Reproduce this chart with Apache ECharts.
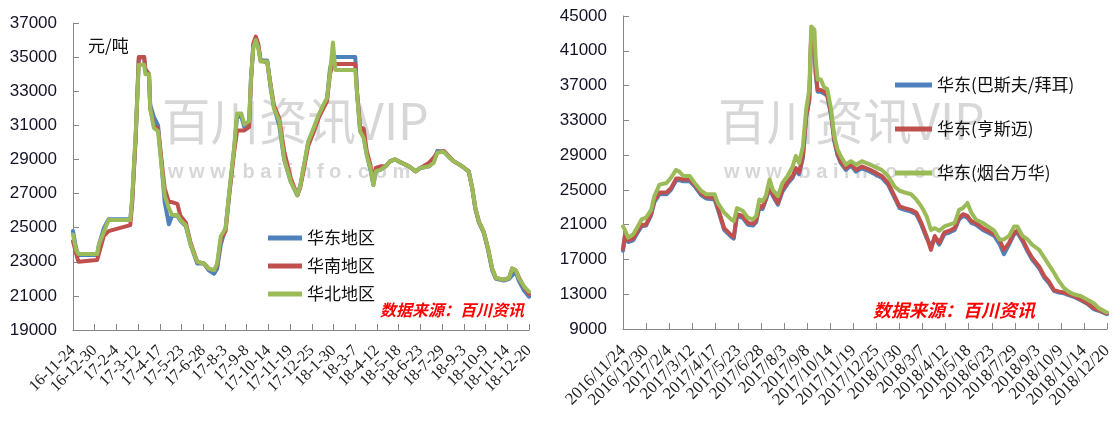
<!DOCTYPE html>
<html>
<head>
<meta charset="utf-8">
<script src="https://cdn.jsdelivr.net/npm/echarts/dist/echarts.min.js"></script>
<style>
  html, body { margin: 0; padding: 0; background: #fff; }
  #chart { width: 1120px; height: 427px; }
</style>
</head>
<body>
<div id="chart"></div>
<script>
// ---- data -------------------------------------------------------------
// x positions are days counted from startDate
const startDate = '2016-11-24';
const tickStepDays = 36;
const totalDays = 756;

// left panel: regional prices, 元/吨
const regionNames = ['华东地区', '华南地区', '华北地区'];
const regionDays = [
  0, 5, 9, 40, 43, 51, 59, 95, 98, 104,
  109, 112, 118, 120, 126, 128, 134, 141, 146, 152,
  159, 164, 173, 178, 187, 195, 206, 217, 225, 234,
  239, 245, 253, 259, 267, 272, 279, 284, 292, 295,
  299, 303, 307, 311, 322, 328, 333, 342, 350, 361,
  372, 377, 382, 390, 399, 407, 415, 421, 426, 431,
  433, 435, 468, 471, 476, 482, 487, 493, 498, 502,
  510, 518, 526, 534, 545, 557, 568, 576, 590, 598,
  604, 615, 623, 631, 645, 656, 662, 667, 673, 681,
  688, 695, 701, 714, 723, 728, 734, 739, 748, 756
];
const eastRegion = [
  24800, 23800, 23400, 23400, 24000, 24950, 25500, 25500, 26500, 30300,
  34800, 35000, 35000, 34200, 34000, 32200, 31500, 31000, 29000, 26500,
  25200, 25700, 25700, 25400, 25100, 24000, 22900, 22900, 22500, 22300,
  22600, 24000, 25000, 27000, 29600, 31500, 31500, 30900, 31100, 33700,
  35700, 36100, 35700, 34800, 34800, 33100, 32100, 31000, 29000, 27700,
  26900, 27500, 28400, 30000, 30800, 31500, 32100, 32500, 34300, 35000,
  35000, 35000, 35000, 32900, 30700, 30300, 29300, 28400, 27500, 28300,
  28400, 28600, 28900, 29000, 28800, 28600, 28300, 28500, 28600, 28900,
  29500, 29450, 29150, 28900, 28600, 28300, 27300, 26100, 25300, 24700,
  23700, 22500, 22000, 21900, 22000, 22200, 22400, 21900, 21300, 20950
];
const southRegion = [
  24200, 23500, 23000, 23100, 23200, 24500, 24800, 25150, 26400, 30400,
  35000, 35000, 35000, 34300, 34000, 32000, 31000, 30800, 29200, 27300,
  26500, 26500, 26400, 25700, 25300, 24100, 23000, 22900, 22600, 22500,
  22800, 24300, 24800, 26900, 29400, 30700, 30700, 30700, 30900, 33500,
  35800, 36200, 35800, 34800, 34700, 33300, 32200, 31400, 29500, 27900,
  26900, 27400, 28300, 29800, 30600, 31400, 32000, 32400, 34000, 34600,
  34600, 34600, 34600, 32900, 30900, 30800, 29500, 28700, 27700, 28500,
  28600, 28600, 28900, 29000, 28800, 28600, 28300, 28500, 28800, 29100,
  29400, 29500, 29200, 28900, 28600, 28300, 27300, 26150, 25350, 24750,
  23800, 22600, 22050, 21950, 22050, 22600, 22500, 22100, 21500, 21100
];
const northRegion = [
  24600, 23700, 23450, 23450, 24000, 24750, 25450, 25450, 26750, 30550,
  34550, 34650, 34550, 34000, 34000, 32000, 30850, 30650, 28900, 26900,
  26150, 25750, 25750, 25450, 25150, 24000, 23000, 22900, 22600, 22500,
  22900, 24500, 24950, 27100, 29650, 31700, 31700, 31050, 31250, 33750,
  35550, 36000, 35550, 34750, 34750, 33200, 32000, 31250, 29050, 27700,
  26900, 27500, 28500, 30050, 30850, 31600, 32200, 32600, 34050, 35850,
  35950, 34250, 34250, 32800, 30650, 30250, 29250, 28500, 27500, 28300,
  28400, 28600, 28900, 29000, 28800, 28600, 28300, 28500, 28600, 28800,
  29400, 29450, 29150, 28900, 28600, 28300, 27300, 26150, 25350, 24750,
  23800, 22600, 22050, 21950, 22050, 22600, 22500, 22050, 21550, 21250
];

// right panel: East China prices by producer, 元/吨
const brandNames = ['华东(巴斯夫/拜耳)', '华东(亨斯迈)', '华东(烟台万华)'];
const brandDays = [
  0, 3, 8, 16, 23, 29, 36, 44, 49, 57,
  68, 75, 83, 88, 94, 104, 112, 122, 130, 143,
  148, 158, 169, 173, 178, 187, 195, 203, 208, 213,
  218, 223, 229, 234, 242, 249, 257, 265, 270, 275,
  281, 286, 291, 294, 299, 301, 304, 309, 314, 319,
  325, 330, 335, 340, 348, 356, 364, 373, 386, 404,
  414, 424, 432, 440, 450, 458, 466, 474, 481, 487,
  494, 502, 510, 518, 525, 531, 538, 544, 551, 562,
  570, 580, 588, 595, 603, 611, 616, 624, 632, 639,
  650, 658, 665, 673, 681, 689, 696, 704, 715, 725,
  735, 743, 756
];
const basfBayer = [
  18000, 19600, 19000, 19200, 20100, 20800, 20900, 22100, 23600, 24500,
  24500, 25000, 26100, 26100, 26000, 26000, 25400, 24400, 24000, 23900,
  22800, 20400, 19600, 19400, 22000, 21800, 21000, 20900, 21300, 23000,
  22800, 23800, 25200, 24300, 23300, 24800, 25700, 26400, 27300, 26800,
  28700, 33300, 35300, 42800, 41800, 38300, 36300, 36300, 36100, 35800,
  33600, 30600, 29000, 28100, 27300, 27800, 27100, 27500, 27100, 26400,
  25600, 24100, 22900, 22700, 22500, 22200, 21000, 19500, 18500, 19500,
  18700, 19900, 20100, 20400, 21600, 22000, 21800, 21200, 21000, 20400,
  20100, 19700, 18800, 17600, 18700, 19900, 20100, 19100, 17900, 17000,
  16000, 14900, 14300, 13400, 13200, 13100, 12900, 12700, 12300, 11900,
  11300, 11100, 10700
];
const huntsman = [
  18200, 19800, 19200, 19400, 20300, 21000, 21000, 22300, 23800, 24700,
  24700, 25200, 26300, 26300, 26200, 26200, 25600, 24600, 24200, 24100,
  23000, 20600, 19800, 19600, 22200, 22000, 21200, 21100, 21500, 23200,
  23000, 24000, 25400, 24500, 23500, 25000, 25900, 26600, 27500, 27000,
  28900, 33500, 35500, 43000, 42000, 38500, 36500, 36500, 36300, 36000,
  33800, 30800, 29200, 28300, 27500, 28000, 27300, 27700, 27300, 26600,
  25800, 24300, 23100, 22900, 22700, 22400, 21200, 19700, 18100, 19700,
  18900, 20100, 20300, 20600, 21800, 22200, 22000, 21400, 21200, 20600,
  20300, 19900, 19300, 18100, 18900, 20100, 20300, 19300, 18100, 17200,
  16200, 15100, 14500, 13500, 13300, 13200, 13000, 12800, 12400, 12000,
  11400, 11200, 10800
];
const wanhua = [
  20800, 20400, 19500, 19900, 20800, 21600, 21800, 22700, 24300, 25600,
  25800, 26400, 27300, 27100, 26600, 26600, 25800, 24900, 24500, 24500,
  23500, 22400, 21600, 21400, 22900, 22600, 21800, 21600, 22000, 23900,
  23700, 24300, 26200, 25000, 24300, 25800, 26600, 27700, 28900, 28100,
  30000, 34200, 36600, 43800, 43400, 40000, 37700, 37700, 36800, 36600,
  34300, 31200, 29700, 28900, 27900, 28300, 27900, 28300, 27900, 27300,
  26600, 25400, 24900, 24700, 24500, 23900, 23100, 22000, 20400, 20600,
  20300, 20800, 21000, 21200, 22700, 22900, 23500, 22400, 21600, 21200,
  20800, 20300, 19300, 19300, 19700, 20800, 20800, 19700, 19300, 18700,
  18100, 17200, 16400, 15500, 14500, 13700, 13300, 13000, 12800, 12400,
  12000, 11400, 10900
];

// ---- helpers ----------------------------------------------------------
const DAY_MS = 86400000;
const [sy, sm, sd] = startDate.split('-').map(Number);
const t0 = Date.UTC(sy, sm - 1, sd);
function dateParts(n) {
  const d = new Date(t0 + Math.round(n) * DAY_MS);
  return [d.getUTCFullYear(), d.getUTCMonth() + 1, d.getUTCDate()];
}
const shortDate = v => { const [y, m, d] = dateParts(v); return (y % 100) + '-' + m + '-' + d; };
const longDate = v => { const [y, m, d] = dateParts(v); return y + '/' + m + '/' + d; };
const pairs = (days, vals) => days.map((d, i) => [d, vals[i]]);

const COLORS = ['#4f81bd', '#c0504d', '#9bbb59'];
const AXIS_GREY = '#868686';
const NUM_FONT = 'Liberation Sans';
const DATE_FONT = 'Liberation Serif';
const CJK_FONT = 'Noto Sans CJK SC';

// Inner date ticks/labels; the two end dates come from a companion axis
// (see endsAxisFor) so that no inner label is dropped next to them.
function xAxisFor(gridIndex, fmt, size, margin) {
  return {
    type: 'value', gridIndex, position: 'bottom', offset: 0,
    min: 0, max: totalDays, interval: tickStepDays,
    axisLine: { show: true, lineStyle: { color: AXIS_GREY, width: 1 } },
    axisTick: { show: true, inside: true, length: 6, lineStyle: { color: AXIS_GREY } },
    splitLine: { show: false },
    axisLabel: {
      formatter: fmt, rotate: 45, margin, showMinLabel: false, showMaxLabel: false,
      fontFamily: DATE_FONT, fontSize: size, color: '#222'
    }
  };
}
function endsAxisFor(gridIndex, fmt, size, margin) {
  return {
    type: 'value', gridIndex, position: 'bottom', offset: 0,
    min: 0, max: totalDays, interval: totalDays,
    axisLine: { show: false },
    axisTick: { show: true, inside: true, length: 6, lineStyle: { color: AXIS_GREY } },
    splitLine: { show: false },
    axisLabel: {
      formatter: fmt, rotate: 45, margin, showMinLabel: true, showMaxLabel: true,
      fontFamily: DATE_FONT, fontSize: size, color: '#222'
    }
  };
}
function yAxisFor(gridIndex, min, max, step) {
  return {
    type: 'value', gridIndex, min, max, interval: step,
    axisLine: { show: true, lineStyle: { color: AXIS_GREY, width: 1 } },
    axisTick: { show: true, inside: true, length: 6, lineStyle: { color: AXIS_GREY } },
    splitLine: { show: false },
    axisLabel: {
      formatter: v => String(v), margin: 16,
      fontFamily: NUM_FONT, fontSize: 17, color: '#141428'
    }
  };
}
function lineSeries(name, idx, days, vals, color) {
  return {
    name, type: 'line', xAxisIndex: idx, yAxisIndex: idx,
    data: pairs(days, vals), symbol: 'none', smooth: false, animation: false,
    lineStyle: { color, width: 4, join: 'round', cap: 'round' },
    itemStyle: { color }
  };
}
function legendFor(names, left, top, gap, width) {
  return {
    data: names, orient: 'vertical', left, top, itemGap: gap,
    icon: 'rect', itemWidth: width, itemHeight: 5,
    textStyle: { fontFamily: CJK_FONT, fontSize: 17, color: '#111', lineHeight: 20 },
    selectedMode: false
  };
}
function watermark(x, y) {
  return [
    { type: 'text', left: x, top: y, z: 0, silent: true, scaleX: 0.97,
      style: { text: '百川资讯VIP', fontFamily: CJK_FONT, fontSize: 50, fill: 'rgba(160,160,160,0.42)' } },
    { type: 'text', left: x + 6, top: y + 66, z: 0, silent: true,
      style: { text: 'w w w . b a i i n f o . c o m', fontFamily: NUM_FONT, fontWeight: 'bold', fontSize: 20, fill: 'rgba(160,160,160,0.42)' } }
  ];
}
function sourceNote(x, y, size) {
  return { type: 'text', left: x, top: y, z: 100, silent: true,
    style: { text: '数据来源：百川资讯', fontFamily: CJK_FONT, fontWeight: 'bold', fontStyle: 'italic', fontSize: size, fill: '#ff0000' } };
}

// ---- chart ------------------------------------------------------------
const chart = echarts.init(document.getElementById('chart'), null, { renderer: 'canvas' });
chart.setOption({
  animation: false,
  backgroundColor: '#ffffff',
  grid: [
    { left: 73, top: 23, width: 456, height: 307 },
    { left: 623, top: 16, width: 484, height: 313 }
  ],
  xAxis: [
    xAxisFor(0, shortDate, 16, 18),
    xAxisFor(1, longDate, 17, 19),
    endsAxisFor(0, shortDate, 16, 18),
    endsAxisFor(1, longDate, 17, 19)
  ],
  yAxis: [yAxisFor(0, 19000, 37000, 2000), yAxisFor(1, 9000, 45000, 4000)],
  legend: [
    legendFor(regionNames, 263, 223, 8, 34),
    legendFor(brandNames, 890, 70, 24, 37)
  ],
  series: [
    lineSeries(regionNames[0], 0, regionDays, eastRegion, COLORS[0]),
    lineSeries(regionNames[1], 0, regionDays, southRegion, COLORS[1]),
    lineSeries(regionNames[2], 0, regionDays, northRegion, COLORS[2]),
    lineSeries(brandNames[0], 1, brandDays, basfBayer, COLORS[0]),
    lineSeries(brandNames[1], 1, brandDays, huntsman, COLORS[1]),
    lineSeries(brandNames[2], 1, brandDays, wanhua, COLORS[2])
  ],
  graphic: [
    ...watermark(162, 96),
    ...watermark(718, 96),
    { type: 'text', left: 88, top: 37, z: 100, silent: true,
      style: { text: '元/吨', fontFamily: CJK_FONT, fontSize: 17, fill: '#111' } },
    sourceNote(380, 302, 16),
    sourceNote(873, 301, 18)
  ]
});
</script>
</body>
</html>
